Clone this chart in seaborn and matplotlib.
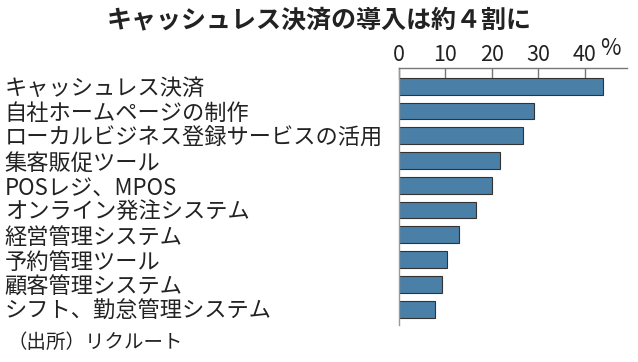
import pandas as pd
import seaborn as sns
import matplotlib.pyplot as plt

# データ
categories = ['キャッシュレス決済', '自社ホームページの制作', 'ローカルビジネス登録サービスの活用',
              '集客販促ツール', 'POSレジ、MPOS', 'オンライン発注システム', '経営管理システム',
              '予約管理ツール', '顧客管理システム', 'シフト、勤怠管理システム']
values = [43.9, 29.0, 26.7, 21.8, 20.1, 16.5, 13.0, 10.3, 9.2, 7.7]
xticks = [0, 10, 20, 30, 40]

df = pd.DataFrame({'item': categories, 'pct': values})

sns.set_theme(style='white')
plt.rcParams['font.family'] = ['Noto Sans CJK JP', 'DejaVu Sans']

fig = plt.figure(figsize=(6.38, 3.62), dpi=100)
ax = fig.add_axes([0.6254, 0.102, 0.357, 0.709])

sns.barplot(data=df, x='pct', y='item', orient='h', color='#4a80a8',
            saturation=1, width=0.68, edgecolor='#333333', linewidth=0.8, ax=ax)

ax.set_xlim(0, 49)
ax.set_ylim(9.645, -0.72)
ax.set_xlabel('')
ax.set_ylabel('')

# 目盛りは上側
ax.xaxis.tick_top()
ax.set_xticks(xticks)
ax.tick_params(axis='x', direction='in', length=8, width=1, color='#777777',
               pad=2, labelsize=15.5, labelcolor='#222222')
ax.tick_params(axis='y', length=0, pad=284, labelsize=16, labelcolor='#222222')
for lab in ax.get_yticklabels():
    lab.set_ha('left')

for s in ['right', 'bottom']:
    ax.spines[s].set_visible(False)
ax.spines['top'].set_color('#777777')
ax.spines['left'].set_color('#999999')
ax.spines['top'].set_linewidth(1)
ax.spines['left'].set_linewidth(1)

ax.annotate('%', xy=(0.93, 1.0), xycoords='axes fraction', xytext=(0, 6),
            textcoords='offset points', ha='center', va='bottom', fontsize=16, color='#222222')

fig.text(0.5, 0.945, 'キャッシュレス決済の導入は約４割に', ha='center', va='center',
         fontsize=18, fontweight='bold', color='#222222')
fig.text(0.012, 0.055, '（出所）リクルート', ha='left', va='center', fontsize=14, color='#222222')

fig.savefig('out.png', dpi=100)
